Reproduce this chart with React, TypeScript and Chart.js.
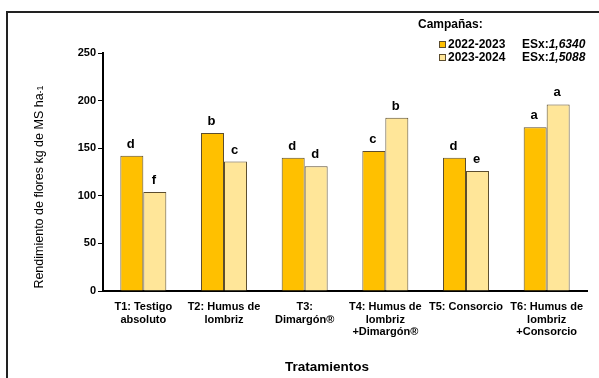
import React, { useEffect, useRef } from "react";
import { Chart, registerables } from "chart.js";

Chart.register(...registerables);

const categories: string[][] = [
  ["T1: Testigo", "absoluto"],
  ["T2: Humus de", "lombriz"],
  ["T3:", "Dimargón®"],
  ["T4: Humus de", "lombriz", "+Dimargón®"],
  ["T5: Consorcio"],
  ["T6: Humus de", "lombriz", "+Consorcio"],
];
const series2022: number[] = [142, 166, 140, 147, 140, 172];
const series2023: number[] = [104, 136, 131, 182, 126, 196];
const letters2022: string[] = ["d", "b", "d", "c", "d", "a"];
const letters2023: string[] = ["f", "c", "d", "b", "e", "a"];
const seriesNames: string[] = ["2022-2023", "2023-2024"];
const esxValues: string[] = ["1,6340", "1,5088"];
const yTicks: number[] = [0, 50, 100, 150, 200, 250];

const ORANGE = "#FFC000";
const PALE = "#FFE699";
const EDGE = "#5c4d2e";
const FONT = "'Liberation Sans', Arial, sans-serif";

export default function App() {
  const ref = useRef<HTMLCanvasElement | null>(null);

  useEffect(() => {
    if (!ref.current) return;
    const lettersPlugin = {
      id: "letters",
      afterDatasetsDraw(chart: any) {
        const ctx = chart.ctx;
        ctx.save();
        ctx.fillStyle = "#000";
        ctx.font = `bold 13px ${FONT}`;
        ctx.textAlign = "center";
        ctx.textBaseline = "bottom";
        const sets = [letters2022, letters2023];
        chart.data.datasets.forEach((_: any, di: number) => {
          const meta = chart.getDatasetMeta(di);
          meta.data.forEach((el: any, i: number) => {
            ctx.fillText(sets[di][i], el.x - 1, el.y - 5);
          });
        });
        ctx.restore();
      },
    };
    const decorPlugin = {
      id: "decor",
      afterDraw(chart: any) {
        const ctx = chart.ctx;
        ctx.save();
        ctx.fillStyle = "#000";
        // y title
        ctx.save();
        ctx.translate(40, 187);
        ctx.rotate(-Math.PI / 2);
        const main = "Rendimiento de flores kg de MS ha";
        ctx.font = `12.5px ${FONT}`;
        const w1 = ctx.measureText(main).width;
        ctx.font = `9px ${FONT}`;
        const w2 = ctx.measureText("-1").width;
        const start = -(w1 + w2) / 2;
        ctx.textBaseline = "middle";
        ctx.textAlign = "left";
        ctx.font = `12.5px ${FONT}`;
        ctx.fillText(main, start, 0);
        ctx.font = `9px ${FONT}`;
        ctx.fillText("-1", start + w1, 1);
        ctx.restore();
        // x title
        ctx.font = `bold 13.5px ${FONT}`;
        ctx.textAlign = "center";
        ctx.textBaseline = "middle";
        ctx.fillText("Tratamientos", 327, 367);
        // legend
        ctx.font = `bold 12px ${FONT}`;
        ctx.textAlign = "left";
        ctx.fillText("Campañas:", 418, 25);
        const rows = [45, 58];
        const cols = [ORANGE, PALE];
        rows.forEach((y, i) => {
          ctx.fillStyle = cols[i];
          ctx.fillRect(439, y - 4, 7, 7);
          ctx.strokeStyle = EDGE;
          ctx.lineWidth = 1;
          ctx.strokeRect(439.5, y - 3.5, 6, 6);
          ctx.fillStyle = "#000";
          ctx.font = `bold 12px ${FONT}`;
          ctx.fillText(seriesNames[i], 448, y);
          ctx.fillText("ESx:", 522, y);
          const ew = ctx.measureText("ESx:").width;
          ctx.font = `italic bold 12px ${FONT}`;
          ctx.fillText(esxValues[i], 522 + ew, y);
        });
        ctx.restore();
      },
    };

    const chart = new Chart(ref.current, {
      type: "bar",
      data: {
        labels: categories,
        datasets: [
          {
            label: seriesNames[0],
            data: series2022,
            backgroundColor: ORANGE,
            borderColor: EDGE,
            borderWidth: 1,
            barPercentage: 1,
            categoryPercentage: 0.57,
          },
          {
            label: seriesNames[1],
            data: series2023,
            backgroundColor: PALE,
            borderColor: EDGE,
            borderWidth: 1,
            barPercentage: 1,
            categoryPercentage: 0.57,
          },
        ],
      },
      options: {
        responsive: false,
        animation: false,
        layout: { padding: { top: 53, right: 12, left: 0, bottom: 0 } },
        plugins: { legend: { display: false }, tooltip: { enabled: false } },
        scales: {
          x: {
            grid: { display: false },
            border: { display: true, color: "#000", width: 2 },
            ticks: {
              color: "#000",
              font: { family: FONT, weight: "bold", size: 11, lineHeight: 1.13 },
              padding: 2,
              maxRotation: 0,
              autoSkip: false,
            },
            afterFit(scale: any) {
              scale.height = 87;
            },
          },
          y: {
            min: 0,
            max: 250,
            afterBuildTicks(scale: any) {
              scale.ticks = yTicks.map((v) => ({ value: v }));
            },
            grid: {
              display: true,
              drawOnChartArea: false,
              tickLength: 5,
              tickColor: "#000",
              tickWidth: 1,
            },
            border: { display: true, color: "#000", width: 2 },
            ticks: {
              color: "#000",
              font: { family: FONT, weight: "bold", size: 11 },
              padding: 2,
            },
            afterFit(scale: any) {
              scale.width = 103;
            },
          },
        },
      },
      plugins: [lettersPlugin, decorPlugin],
    });
    return () => chart.destroy();
  }, []);

  return (
    <div style={{ position: "fixed", left: 0, top: 0, width: 599, height: 378, background: "#fff" }}>
      <div
        style={{
          position: "absolute",
          left: 6,
          top: 11,
          width: 620,
          height: 400,
          borderLeft: "2px solid #222",
          borderTop: "2px solid #222",
        }}
      />
      <canvas ref={ref} width={599} height={378} style={{ position: "absolute", left: 0, top: 0 }} />
    </div>
  );
}
